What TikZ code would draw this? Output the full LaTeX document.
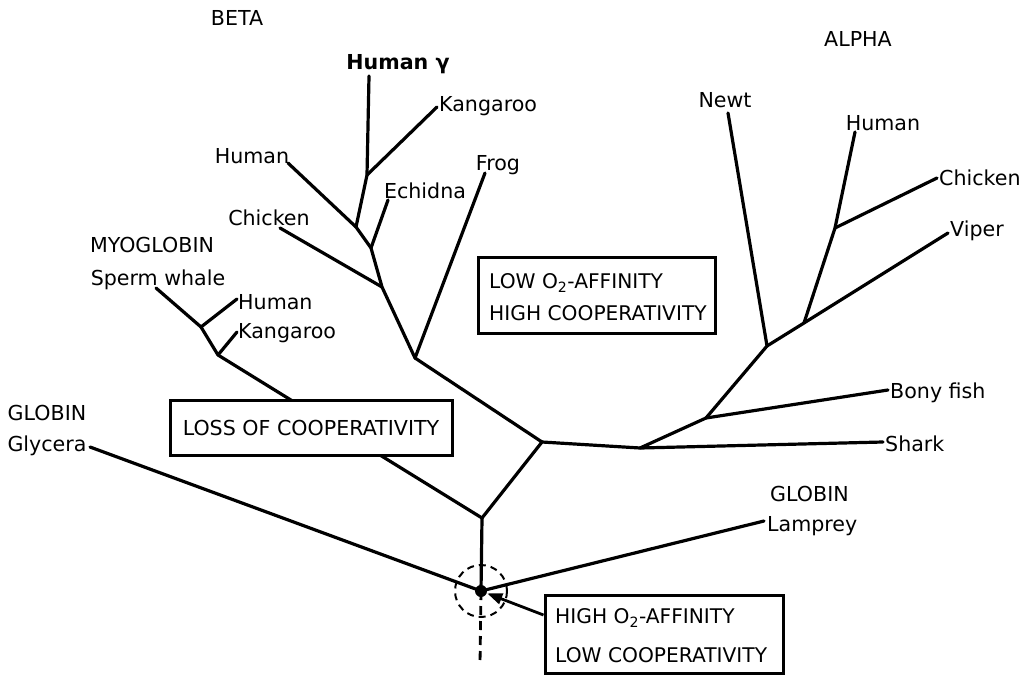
\documentclass[tikz,border=0pt]{standalone}
\usepackage{fontspec}
\setmainfont{DejaVu Sans}
\usetikzlibrary{arrows.meta,calc}
\begin{document}
\begin{tikzpicture}[x=1pt,y=-1pt,
  branch/.style={line width=3.2pt, line cap=round, line join=round},
  lbl/.style={font=\fontsize{20.6}{24}\selectfont, inner sep=0pt},
  boxlbl/.style={font=\fontsize{20.2}{24}\selectfont, inner sep=0pt, anchor=west},
  boxnode/.style={draw, line width=3pt, fill=white, inner sep=0pt, align=left}]
\useasboundingbox (0,0) rectangle (1032,679);
% junctions
\coordinate (root) at (481,591);
\coordinate (A) at (482,518);
\coordinate (B) at (542,442);
\coordinate (C) at (640,448);
\coordinate (D) at (706,418);
\coordinate (E) at (767,346);
\coordinate (F) at (804,323);
\coordinate (G) at (835,228);
\coordinate (P) at (415,358);
\coordinate (Q) at (382,287);
\coordinate (R) at (371,248);
\coordinate (S) at (356,227);
\coordinate (T) at (367,175);
\coordinate (M1) at (201,327);
\coordinate (M2) at (218,355);
% leaf ends
\coordinate (lHg) at (369,76);
\coordinate (lKb) at (437,107);
\coordinate (lHb) at (288,163);
\coordinate (lEc) at (388,200);
\coordinate (lFr) at (485,173);
\coordinate (lCb) at (280,228);
\coordinate (lSw) at (156,288);
\coordinate (lHm) at (237,299);
\coordinate (lKm) at (237,332);
\coordinate (lNe) at (728,113);
\coordinate (lHa) at (855,132);
\coordinate (lCa) at (937,178);
\coordinate (lVi) at (948,233);
\coordinate (lBf) at (888,390);
\coordinate (lSh) at (883,442);
\coordinate (lLa) at (764,521);
\coordinate (lGl) at (90,447);
\coordinate (down) at (480,664);

% branches
\draw[branch] (root) -- (A);
\draw[branch] (A) -- (M2);
\draw[branch] (M2) -- (M1) -- (lSw);
\draw[branch] (M1) -- (lHm);
\draw[branch] (M2) -- (lKm);
\draw[branch] (A) -- (B) -- (P);
\draw[branch] (P) -- (lFr);
\draw[branch] (P) -- (Q) -- (R) -- (S) -- (T) -- (lHg);
\draw[branch] (T) -- (lKb);
\draw[branch] (S) -- (lHb);
\draw[branch] (R) -- (lEc);
\draw[branch] (Q) -- (lCb);
\draw[branch] (B) -- (C) -- (lSh);
\draw[branch] (C) -- (D) -- (lBf);
\draw[branch] (D) -- (E) -- (lNe);
\draw[branch] (E) -- (F) -- (lVi);
\draw[branch] (F) -- (G) -- (lHa);
\draw[branch] (G) -- (lCa);
\draw[branch] (root) -- (lGl);
\draw[branch] (root) -- (lLa);
\draw[line width=2.8pt, dash pattern=on 9pt off 6pt] (root) -- (down);
\draw[line width=2pt, dash pattern=on 7pt off 5pt] (root) circle[radius=26pt];
\fill (root) circle[radius=6pt];

% labels
\node[lbl] (beta) at (237,18) {BETA};
\node[lbl] (alpha) at (858,39) {ALPHA};
\node[lbl, font=\fontsize{20.6}{24}\selectfont\bfseries] (hg) at (398,64) {Human γ};
\node[lbl, anchor=west] (kb) at (439,106) {Kangaroo};
\node[lbl] (hb) at (252,156) {Human};
\node[lbl] (ec) at (425,191) {Echidna};
\node[lbl] (fr) at (498,165) {Frog};
\node[lbl] (cb) at (269,218) {Chicken};
\node[lbl] (myo) at (152,245) {MYOGLOBIN};
\node[lbl] (sw) at (158,280) {Sperm whale};
\node[lbl, anchor=west] (hm) at (238,302) {Human};
\node[lbl, anchor=west] (km) at (238,333) {Kangaroo};
\node[lbl] (ne) at (725,100) {Newt};
\node[lbl] (ha) at (883,123) {Human};
\node[lbl, anchor=west] (ca) at (939,178) {Chicken};
\node[lbl, anchor=west] (vi) at (950,231) {Viper};
\node[lbl, anchor=west] (bf) at (890,393) {Bony fish};
\node[lbl, anchor=west] (sh) at (885,444) {Shark};
\node[lbl] (glo1) at (47,413) {GLOBIN};
\node[lbl] (gly) at (47,446) {Glycera};
\node[lbl, anchor=west] (glo2) at (770,494) {GLOBIN};
\node[lbl, anchor=west] (lam) at (767,526) {Lamprey};

% boxes
\node[boxnode, minimum width=237pt, minimum height=76pt] (low) at (596.5,295) {};
\node[boxlbl] (low1) at (489,283) {LOW O\textsubscript{2}-AFFINITY};
\node[boxlbl] (low2) at (489,313) {HIGH COOPERATIVITY};
\node[boxnode, minimum width=282pt, minimum height=55pt] (loss) at (311,427.5) {};
\node[lbl] (losst) at (311,428) {LOSS OF COOPERATIVITY};
\node[boxnode, minimum width=238pt, minimum height=78pt] (high) at (664,634) {};
\node[boxlbl] (high1) at (555,618) {HIGH O\textsubscript{2}-AFFINITY};
\node[boxlbl] (high2) at (555,655) {LOW COOPERATIVITY};
\draw[line width=2.8pt, -{Triangle[length=15pt,width=11pt]}] ([yshift=19pt]high.west) -- ($(root)!0.1!([yshift=19pt]high.west)$);
\end{tikzpicture}
\end{document}
